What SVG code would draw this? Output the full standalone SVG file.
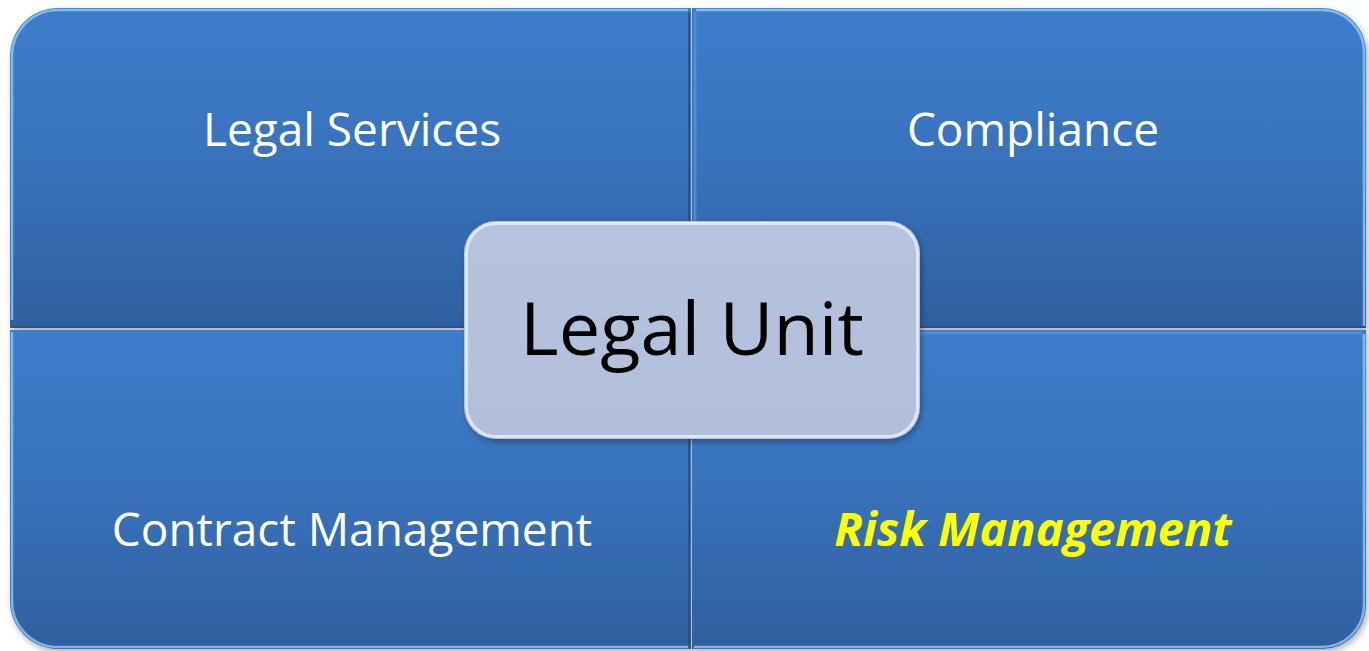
<svg xmlns="http://www.w3.org/2000/svg" width="1369" height="651" viewBox="0 0 1369 651">
  <defs>
    <linearGradient id="quad" x1="0" y1="0" x2="0" y2="1">
      <stop offset="0" stop-color="#3d7dcb"/>
      <stop offset="0.5" stop-color="#3872bb"/>
      <stop offset="1" stop-color="#2f609f"/>
    </linearGradient>
    <linearGradient id="center" x1="0" y1="0" x2="0" y2="1">
      <stop offset="0" stop-color="#b6c3de"/>
      <stop offset="1" stop-color="#b1bfda"/>
    </linearGradient>
    <filter id="shadow" x="-10%" y="-10%" width="120%" height="120%">
      <feDropShadow dx="2" dy="3" stdDeviation="3" flood-color="#000" flood-opacity="0.3"/>
    </filter>
    <style>
      .quad { fill: url(#quad); filter: url(#shadow); }
      .hl { fill: none; stroke: #8ec3f5; stroke-width: 2.5; stroke-opacity: 0.85; }
      .sl { fill: none; stroke: #5a95dc; stroke-width: 3; stroke-opacity: 0.7; }
      .dk { fill: none; stroke: #254f85; stroke-width: 2; stroke-opacity: 0.8; }
      .lbl { font-family: "Open Sans", "Liberation Sans", sans-serif; font-size: 46px; fill: #ffffff; text-anchor: middle; }
      .risk { font-weight: bold; font-style: italic; fill: #ffff00; font-size: 47px; }
      .ctr { font-family: "Open Sans", "Liberation Sans", sans-serif; font-size: 74px; fill: #000000; text-anchor: middle; }
    </style>
  </defs>
  <rect x="0" y="0" width="1369" height="651" fill="#ffffff"/>

  <g id="legal-services">
    <path class="quad" d="M10,58 A48,48 0 0 1 58,8 L691,8 L691,328 L10,328 Z"/>
    <path class="hl" d="M12,320 L12,58 A46,46 0 0 1 58,10 L688,10"/>
    <path class="dk" d="M689,12 L689,327 L12,327"/>
    <text class="lbl" x="352" y="146">Legal Services</text>
  </g>

  <g id="compliance">
    <path class="quad" d="M692,8 L1322,8 A44,44 0 0 1 1366,52 L1366,328 L692,328 Z"/>
    <path class="sl" d="M695,12 L695,325"/>
    <path class="hl" d="M696,10 L1322,10 A42,42 0 0 1 1364,52 L1364,326"/>
    <path class="dk" d="M694,327 L1365,327"/>
    <text class="lbl" x="1033" y="146">Compliance</text>
  </g>

  <g id="contract-management">
    <path class="quad" d="M10,330 L691,330 L691,649 L58,649 A48,48 0 0 1 10,601 Z"/>
    <path class="hl" d="M12,332 L12,601 A46,46 0 0 0 58,647 L688,647"/>
    <path class="dk" d="M689,332 L689,645"/>
    <text class="lbl" x="352" y="546">Contract Management</text>
  </g>

  <g id="risk-management">
    <path class="quad" d="M692,330 L1366,330 L1366,605 A44,44 0 0 1 1322,649 L692,649 Z"/>
    <path class="sl" d="M694,333 L1362,333"/>
    <path class="hl" d="M1364,334 L1364,605 A42,42 0 0 1 1322,647 L694,647"/>
    <text class="lbl risk" x="1033" y="546">Risk Management</text>
  </g>

  <g id="legal-unit">
    <rect x="464" y="221" width="456" height="218" rx="32" ry="32" fill="url(#center)" filter="url(#shadow)"/>
    <rect x="466.5" y="223.5" width="451" height="213" rx="30" ry="30" fill="none" stroke="#ffffff" stroke-width="3" stroke-opacity="0.6"/>
    <text class="ctr" x="692" y="355">Legal Unit</text>
  </g>
</svg>
